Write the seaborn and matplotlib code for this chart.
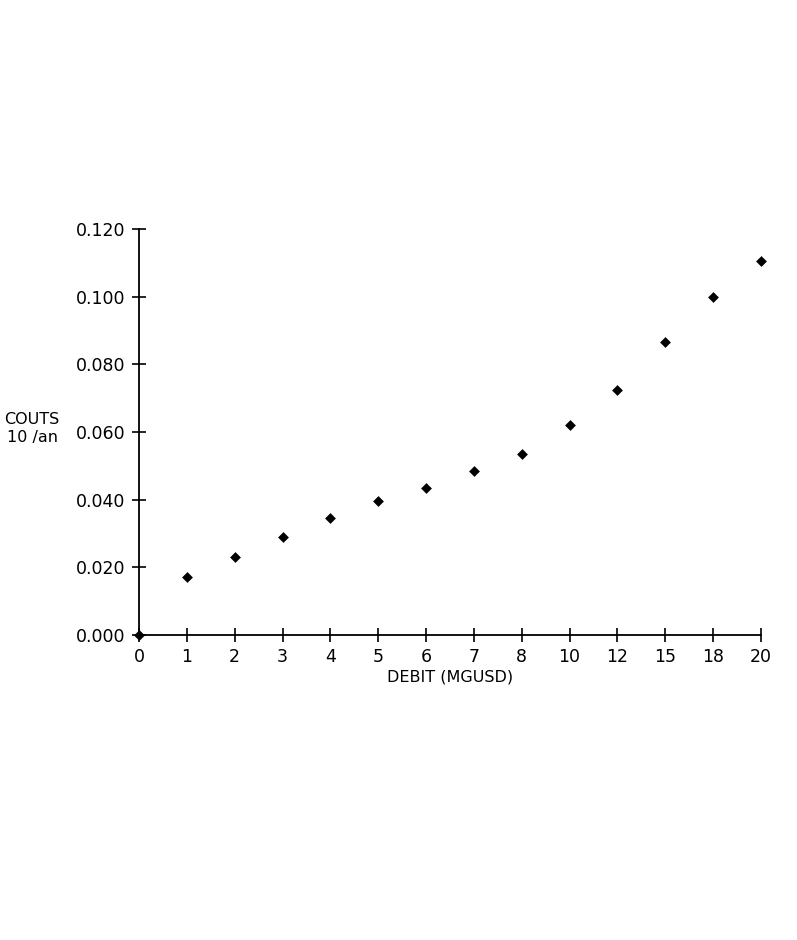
import matplotlib
matplotlib.use("Agg")
import matplotlib.pyplot as plt
import seaborn as sns
import pandas as pd

debit_labels = ["0", "1", "2", "3", "4", "5", "6", "7", "8", "10", "12", "15", "18", "20"]
couts = [0.000, 0.017, 0.023, 0.029, 0.0345, 0.0395, 0.0435, 0.0485, 0.0535, 0.062, 0.0725, 0.0865, 0.100, 0.1105]
y_ticks = [0.000, 0.020, 0.040, 0.060, 0.080, 0.100, 0.120]

sns.set_theme(style="white")
plt.rcParams['font.family'] = ['DejaVu Sans']

df = pd.DataFrame({"debit": debit_labels, "couts": couts})

fig = plt.figure(figsize=(7.97, 9.40), dpi=100)
ax = fig.add_axes([139/797, 1-635/940, (761-139)/797, (635-229)/940])

sns.stripplot(data=df, x="debit", y="couts", order=debit_labels, jitter=False,
              marker="D", size=5.5, color="black", linewidth=0, ax=ax, clip_on=False)

ax.set_xlim(0, len(debit_labels) - 1)
ax.set_ylim(0, 0.12)
ax.set_yticks(y_ticks)
ax.set_yticklabels([f"{v:.3f}" for v in y_ticks])
ax.set_xticks(range(len(debit_labels)))
ax.set_xticklabels(debit_labels)

for s in ["top", "right"]:
    ax.spines[s].set_visible(False)
for s in ["left", "bottom"]:
    ax.spines[s].set_color("black")
    ax.spines[s].set_linewidth(1.3)

ax.tick_params(axis="both", which="major", direction="inout", length=10, width=1.2,
               color="black", labelsize=12.5, labelcolor="black", left=True, bottom=True)
ax.tick_params(axis="x", pad=4)
ax.tick_params(axis="y", pad=5)

ax.set_xlabel("DEBIT (MGUSD)", fontsize=11.5, color="black", labelpad=3)
ax.set_ylabel("")

fig.text(4/797, 1-419/940, "COUTS", fontsize=11.5, color="black", ha="left", va="center")
fig.text(58/797, 1-438/940, "10 /an", fontsize=11.5, color="black", ha="right", va="center")

fig.savefig("out.png", dpi=100, facecolor="white")
